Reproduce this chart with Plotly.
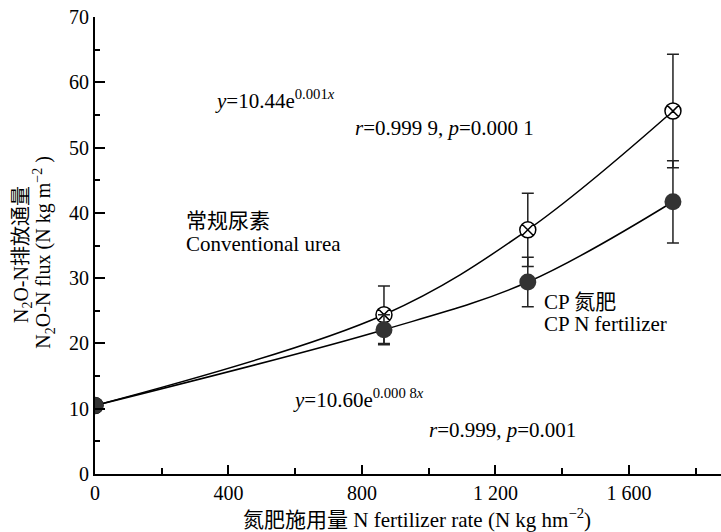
import plotly.graph_objects as go

# ---- data ----
n_rate = [0, 866, 1297, 1732]
conv_flux = [10.5, 24.4, 37.4, 55.6]
conv_err = [0.4, 4.4, 5.6, 8.7]
cp_flux = [10.5, 22.1, 29.4, 41.7]
cp_err = [0.4, 2.3, 3.8, 6.3]

x_tickvals = [0, 400, 800, 1200, 1600]
x_ticktext = ["0", "400", "800", "1 200", "1 600"]
y_tickvals = [0, 10, 20, 30, 40, 50, 60, 70]

FONT = '"Liberation Serif", "Times New Roman", "Noto Sans CJK SC", serif'

fig = go.Figure()

fig.add_trace(go.Scatter(
    x=n_rate, y=conv_flux, mode="lines+markers",
    line=dict(color="black", width=1.5, shape="spline", smoothing=1.0),
    marker=dict(symbol="circle-x", size=16, color="white",
                line=dict(color="black", width=1.5)),
    error_y=dict(type="data", array=conv_err, visible=True,
                 color="#222222", thickness=1.5, width=6),
    name="常规尿素 Conventional urea", showlegend=False,
))

fig.add_trace(go.Scatter(
    x=n_rate, y=cp_flux, mode="lines+markers",
    line=dict(color="black", width=1.5, shape="spline", smoothing=1.0),
    marker=dict(symbol="circle", size=17, color="#333333",
                line=dict(color="#333333", width=0)),
    error_y=dict(type="data", array=cp_err, visible=True,
                 color="#222222", thickness=1.5, width=6),
    name="CP 氮肥 CP N fertilizer", showlegend=False,
))

ann_font = dict(family=FONT, size=21, color="black")
annotations = [
    dict(x=355, y=57.4, text="<i>y</i>=10.44e<sup>0.001<i>x</i></sup>"),
    dict(x=772, y=53.0, text="<i>r</i>=0.999 9, <i>p</i>=0.000 1"),
    dict(x=268, y=38.8, text="常规尿素"),
    dict(x=268, y=35.3, text="Conventional urea"),
    dict(x=1340, y=26.4, text="CP 氮肥"),
    dict(x=1340, y=23.0, text="CP N fertilizer"),
    dict(x=588, y=11.6, text="<i>y</i>=10.60e<sup>0.000 8<i>x</i></sup>"),
    dict(x=994, y=6.8, text="<i>r</i>=0.999, <i>p</i>=0.001"),
]
for a in annotations:
    a.update(xref="x", yref="y", xanchor="left", yanchor="middle",
             showarrow=False, font=ann_font)

# axis titles
annotations.append(dict(
    xref="paper", yref="paper", x=0.514, y=-0.097,
    text="氮肥施用量 N fertilizer rate (N kg hm<sup>−2</sup>)",
    showarrow=False, xanchor="center", yanchor="middle",
    font=dict(family=FONT, size=21, color="black")))
annotations.append(dict(
    xref="paper", yref="paper", x=-0.116, y=0.48,
    text="N<sub>2</sub>O-N排放通量", textangle=-90,
    showarrow=False, xanchor="center", yanchor="middle",
    font=dict(family=FONT, size=20, color="black")))
annotations.append(dict(
    xref="paper", yref="paper", x=-0.081, y=0.485,
    text="N<sub>2</sub>O-N flux (N kg m<sup>−2</sup> )", textangle=-90,
    showarrow=False, xanchor="center", yanchor="middle",
    font=dict(family=FONT, size=20, color="black")))

fig.update_layout(
    width=721, height=532,
    margin=dict(l=95, r=0, t=17, b=58),
    paper_bgcolor="white", plot_bgcolor="white",
    font=dict(family=FONT, size=20, color="black"),
    annotations=annotations,
)

fig.update_xaxes(
    range=[0, 1876], tickvals=x_tickvals, ticktext=x_ticktext,
    showline=True, linecolor="black", linewidth=2,
    ticks="inside", ticklen=9, tickwidth=2, tickcolor="black",
    minor=dict(dtick=200, tick0=0, ticks="inside", ticklen=6,
               tickwidth=2, tickcolor="black"),
    showgrid=False, zeroline=False,
    tickfont=dict(family=FONT, size=20, color="black"),
)
fig.update_yaxes(
    range=[0, 70], tickvals=y_tickvals,
    showline=True, linecolor="black", linewidth=2,
    ticks="inside", ticklen=10, tickwidth=2, tickcolor="black",
    minor=dict(dtick=5, tick0=0, ticks="inside", ticklen=5,
               tickwidth=2, tickcolor="black"),
    showgrid=False, zeroline=False,
    tickfont=dict(family=FONT, size=20, color="black"),
)

fig.write_html("out.html",
               config={"displayModeBar": False},
               post_script="document.body.style.margin='0';document.body.style.padding='0';")
